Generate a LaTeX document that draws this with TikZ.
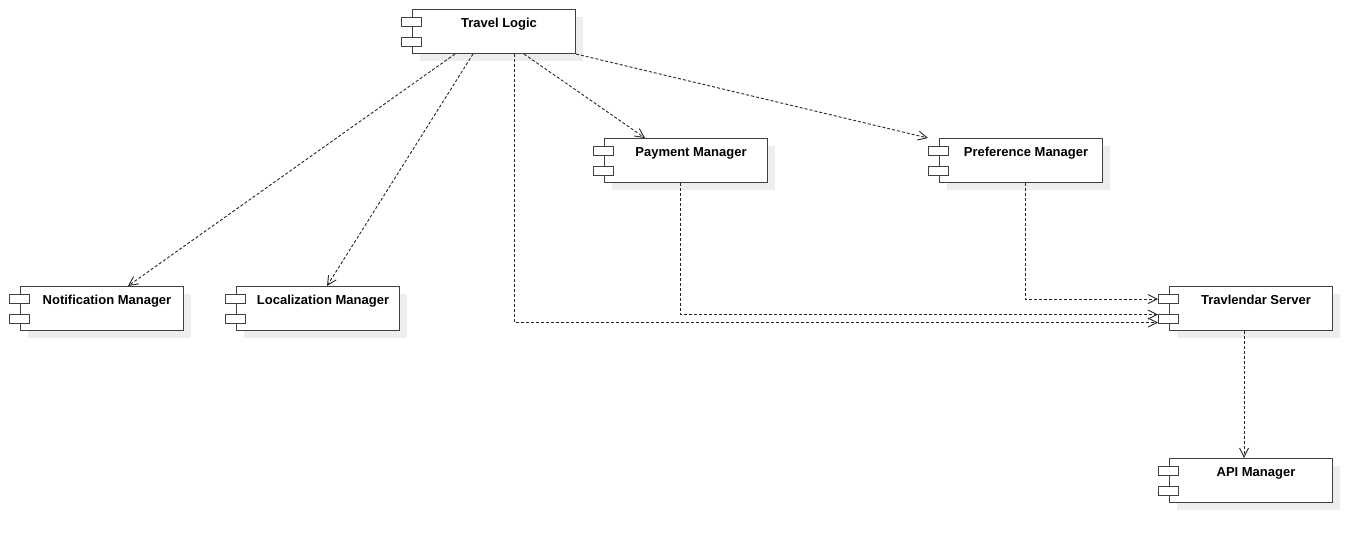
\documentclass[tikz,border=0pt]{standalone}
\usepackage{fontspec}
\setmainfont{Liberation Sans}
\usetikzlibrary{arrows.meta,shadows}

\begin{document}
\begin{tikzpicture}[x=1pt, y=-1pt,
    comp/.style={draw=black!75, line width=1pt, fill=white, inner sep=0pt,
        minimum width=163pt, minimum height=44pt, anchor=north west,
        drop shadow={shadow xshift=7pt, shadow yshift=-7pt, fill=black!7, opacity=1}},
    port/.style={draw=black!75, line width=1pt, fill=white, inner sep=0pt,
        minimum width=20pt, minimum height=9pt, anchor=north west},
    title/.style={font=\bfseries\fontsize{13pt}{15pt}\selectfont, inner sep=0pt, anchor=base},
    dep/.style={draw=black!85, line width=0.9pt, dash pattern=on 3pt off 2pt,
        -{Straight Barb[length=9pt, width=9pt]}}]
    \useasboundingbox (0, 0) rectangle (1372, 542);

    % Components
    \foreach \name/\x/\y/\txt in {logic/412/9/Travel Logic,
            payment/604/138/Payment Manager, pref/939/138/Preference Manager,
            notif/20/286/Notification Manager, local/236/286/Localization Manager,
            server/1169/286/Travlendar Server, api/1169/458/API Manager} {
            \node[comp] (\name) at (\x, \y) {};
            \node[port] (\name-p1) at ([xshift=-11pt, yshift=-8pt]\name.north west) {};
            \node[port] (\name-p2) at ([xshift=-11pt, yshift=-28pt]\name.north west) {};
            \node[title] (\name-t) at ([xshift=5pt, yshift=-18pt]\name.north) {\txt};
        }

    % Dependencies
    \draw[dep] ([xshift=43pt]logic.south west) -- ([xshift=108pt]notif.north west);
    \draw[dep] ([xshift=61pt]logic.south west) -- ([xshift=91pt]local.north west);
    \draw[dep] ([xshift=102pt]logic.south west) |- ([yshift=-3.5pt]server-p2.west);
    \draw[dep] ([xshift=112pt]logic.south west) -- ([xshift=41pt]payment.north west);
    \draw[dep] (logic.south east) -- ([xshift=-11pt]pref.north west);
    \draw[dep] ([xshift=76pt]payment.south west) |- ([yshift=4.5pt]server-p2.west);
    \draw[dep] ([xshift=86pt]pref.south west) |- (server-p1.west);
    \draw[dep] ([xshift=75pt]server.south west) -- ([xshift=75pt]api.north west);
\end{tikzpicture}
\end{document}
